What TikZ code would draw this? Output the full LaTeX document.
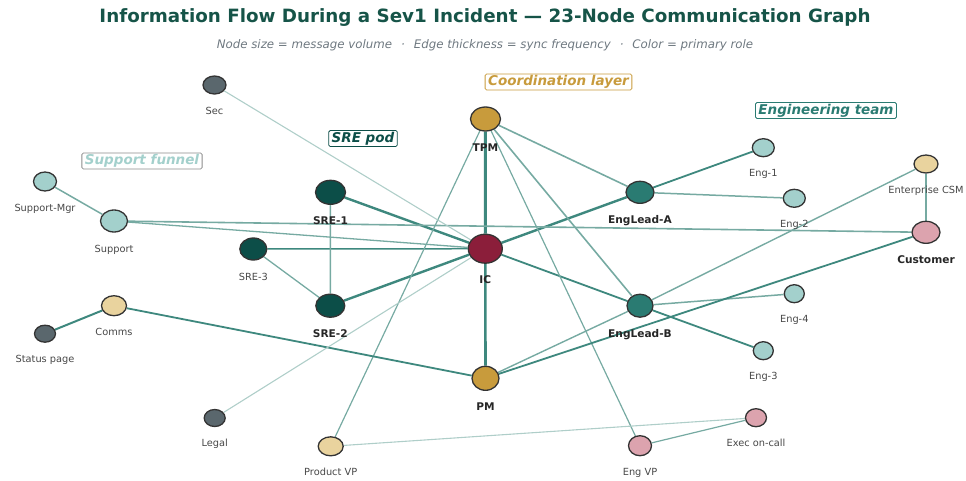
\documentclass[tikz,border=0pt]{standalone}
\usepackage{fontspec}
\setmainfont{DejaVu Sans}[
    BoldFont={DejaVu Sans Bold},
    ItalicFont={DejaVu Sans Oblique},
    BoldItalicFont={DejaVu Sans Bold Oblique}]
\usepackage{xcolor}
\usepackage{tikz}
\usetikzlibrary{positioning,backgrounds,shapes.geometric}

\definecolor{icred}{RGB}{139,30,58}
\definecolor{coordgold}{RGB}{200,155,60}
\definecolor{sreteal}{RGB}{12,78,72}
\definecolor{leadteal}{RGB}{42,123,114}
\definecolor{engteal}{RGB}{163,208,204}
\definecolor{commstan}{RGB}{233,211,158}
\definecolor{execpink}{RGB}{220,163,174}
\definecolor{slate}{RGB}{90,103,109}
\definecolor{titlegreen}{RGB}{22,84,72}
\definecolor{subgray}{RGB}{110,120,128}
\definecolor{edgestrong}{RGB}{62,136,126}
\definecolor{edgemid}{RGB}{118,170,162}
\definecolor{edgelight}{RGB}{175,206,201}

\begin{document}
\begin{tikzpicture}[
    % GLOBAL CFG
    x=1pt, y=-1pt,
    label distance=12pt,
    % Styles
    person/.style={% For every role in the graph
        ellipse,
        draw=black!80,
        line width=1.3pt,
        inner sep=0pt,
        },
    sz/.style 2 args={% node size = message volume
        minimum width=#1pt,
        minimum height=#2pt,
        },
    lbl/.style={% plain names under the nodes
        font=\fontsize{9.8}{10}\selectfont,
        text=black!72,
        inner sep=0pt,
        text height=7.2pt,
        text depth=2pt,
        },
    blbl/.style={% bold names for the core roles
        font=\fontsize{10.6}{11}\selectfont\bfseries,
        text=black!85,
        inner sep=0pt,
        text height=7.8pt,
        text depth=2pt,
        },
    grp/.style={% group captions
        draw,
        fill=white,
        rounded corners=1.5pt,
        line width=.8pt,
        inner xsep=3pt,
        inner ysep=1.5pt,
        text height=10pt,
        text depth=3pt,
        font=\fontsize{13.5}{14}\selectfont\bfseries\itshape,
        },
    strong/.style={draw=edgestrong, line width=#1},
    sync/.style={draw=edgemid, line width=#1},
    weak/.style={draw=edgelight, line width=#1},
    ]

\useasboundingbox (0,0) rectangle (966,480);

% Title
\node[font=\fontsize{18.3}{20}\selectfont\bfseries, text=titlegreen] (title) at (485,18)
    {Information Flow During a Sev1 Incident — 23-Node Communication Graph};
\node[font=\fontsize{11.8}{13}\selectfont\itshape, text=subgray] (subtitle) at (485,45)
    {Node size = message volume\hspace{9pt}·\hspace{9pt}Edge thickness = sync frequency\hspace{9pt}·\hspace{9pt}Color = primary role};

% Group captions
\node[grp, draw=coordgold, text=coordgold] (gcoord) at (558.5,82) {Coordination layer};
\node[grp, draw=sreteal, text=sreteal] (gsre) at (363,138.5) {SRE pod};
\node[grp, draw=black!45, text=engteal] (gsupport) at (142,161) {Support funnel};
\node[grp, draw=leadteal, text=leadteal] (geng) at (826,110.5) {Engineering team};

% Core
\node[person, sz={34}{29}, fill=icred, label={[blbl]below:IC}] (ic) at (485.3,248.7) {};
\node[person, sz={30}{24}, fill=coordgold, label={[blbl]below:TPM}] (tpm) at (485.5,119) {};
\node[person, sz={27}{24}, fill=coordgold, label={[blbl]below:PM}] (pm) at (485.5,378.3) {};

% SRE pod
\node[person, sz={30}{24}, fill=sreteal, label={[blbl]below:SRE-1}] (sre1) at (330.5,192.3) {};
\node[person, sz={29}{23}, fill=sreteal, label={[blbl]below:SRE-2}] (sre2) at (330.3,305.7) {};
\node[person, sz={27}{22}, fill=sreteal, label={[lbl]below:SRE-3}] (sre3) at (253.3,249) {};

% Engineering team
\node[person, sz={28}{22}, fill=leadteal, label={[blbl]below:EngLead-A}] (leadA) at (640,192.3) {};
\node[person, sz={26}{23}, fill=leadteal, label={[blbl]below:EngLead-B}] (leadB) at (640,305.7) {};
\node[person, sz={22}{18}, fill=engteal, label={[lbl]below:Eng-1}] (eng1) at (763.3,147.7) {};
\node[person, sz={22}{18}, fill=engteal, label={[lbl]below:Eng-2}] (eng2) at (794.3,198.3) {};
\node[person, sz={20}{18}, fill=engteal, label={[lbl]below:Eng-3}] (eng3) at (763.3,350.7) {};
\node[person, sz={20}{18}, fill=engteal, label={[lbl]below:Eng-4}] (eng4) at (794.3,293.7) {};

% Customer side
\node[person, sz={24}{18}, fill=commstan, label={[lbl]below:Enterprise CSM}] (csm) at (926,164) {};
\node[person, sz={28}{22}, fill=execpink, label={[blbl]below:Customer}] (customer) at (926,232.3) {};

% Support funnel
\node[person, sz={23}{19}, fill=engteal, label={[lbl]below:Support-Mgr}] (supmgr) at (45,181.5) {};
\node[person, sz={27}{22}, fill=engteal, label={[lbl]below:Support}] (support) at (114,221) {};

% Comms, execs, others
\node[person, sz={23}{18}, fill=slate, label={[lbl]below:Sec}] (sec) at (214.5,85) {};
\node[person, sz={25}{20}, fill=commstan, label={[lbl]below:Comms}] (comms) at (114,305.7) {};
\node[person, sz={21}{17}, fill=slate, label={[lbl]below:Status page}] (status) at (45,333.7) {};
\node[person, sz={21}{17}, fill=slate, label={[lbl]below:Legal}] (legal) at (214.7,418) {};
\node[person, sz={25}{19}, fill=commstan, label={[lbl]below:Product VP}] (prodvp) at (330.7,446.3) {};
\node[person, sz={23}{20}, fill=execpink, label={[lbl]below:Eng VP}] (engvp) at (640,445.7) {};
\node[person, sz={21}{18}, fill=execpink, label={[lbl]below:Exec on-call}] (exec) at (756,417.7) {};

% Edges (thickness = sync frequency)
\begin{scope}[on background layer]
    \draw[strong=3pt] (ic) -- (tpm);
    \draw[strong=2.6pt] (ic) -- (pm);
    \draw[strong=2.4pt] (ic) -- (sre1);
    \draw[strong=2.4pt] (ic) -- (sre2);
    \draw[strong=2.4pt] (ic) -- (leadA);
    \draw[strong=1.8pt] (ic) -- (leadB);
    \draw[strong=1.5pt] (ic) -- (sre3);
    \draw[sync=1.3pt] (support) -- (ic);
    \draw[sync=1.6pt] (support) -- (customer);
    \draw[sync=1.5pt] (supmgr) -- (support);
    \draw[sync=1.5pt] (sre1) -- (sre2);
    \draw[sync=1.3pt] (sre3) -- (sre2);
    \draw[sync=1.6pt] (tpm) -- (leadA);
    \draw[sync=1.6pt] (tpm) -- (leadB);
    \draw[sync=1.2pt] (tpm) -- (engvp);
    \draw[sync=1.2pt] (tpm) -- (prodvp);
    \draw[strong=1.8pt] (leadA) -- (eng1);
    \draw[sync=1.5pt] (leadA) -- (eng2);
    \draw[sync=1.5pt] (leadB) -- (eng4);
    \draw[strong=1.8pt] (leadB) -- (eng3);
    \draw[sync=1.4pt] (pm) -- (leadB);
    \draw[sync=1.4pt] (leadB) -- (csm);
    \draw[strong=1.8pt] (pm) -- (customer);
    \draw[sync=1.5pt] (csm) -- (customer);
    \draw[strong=2pt] (comms) -- (status);
    \draw[strong=1.8pt] (comms) -- (pm);
    \draw[sync=1.2pt] (engvp) -- (exec);
    \draw[weak=1.1pt] (sec) -- (ic);
    \draw[weak=1.1pt] (legal) -- (ic);
    \draw[weak=1.1pt] (prodvp) -- (exec);
\end{scope}
\end{tikzpicture}
\end{document}
